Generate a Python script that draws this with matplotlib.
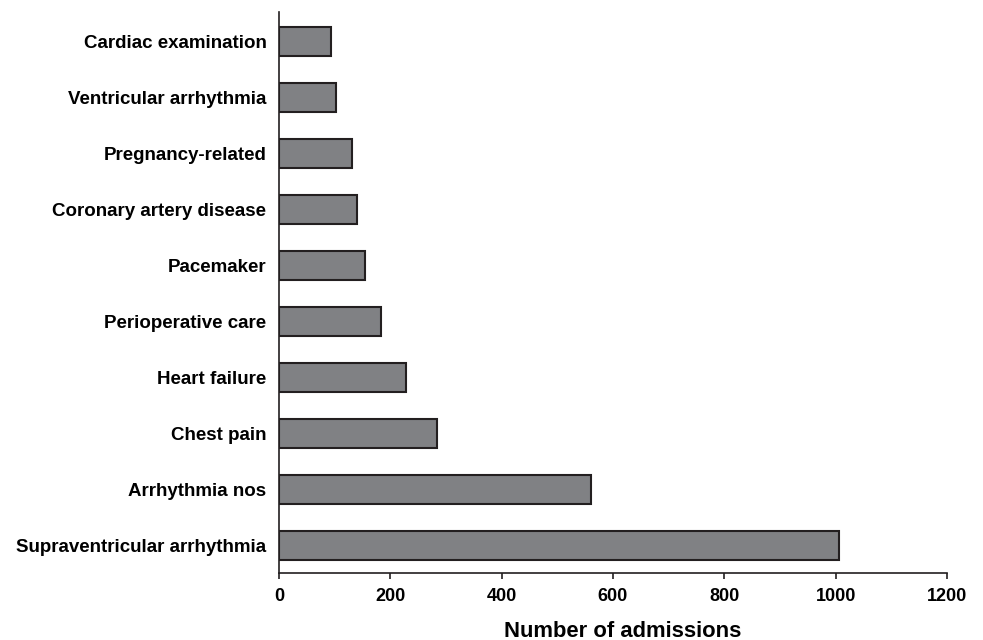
import matplotlib.pyplot as plt

plt.rcParams['font.family'] = ['Liberation Sans', 'DejaVu Sans']
plt.rcParams['font.weight'] = 'bold'

categories = ['Supraventricular arrhythmia', 'Arrhythmia nos', 'Chest pain',
              'Heart failure', 'Perioperative care', 'Pacemaker',
              'Coronary artery disease', 'Pregnancy-related',
              'Ventricular arrhythmia', 'Cardiac examination']
admissions = [1007, 560, 284, 228, 183, 154, 140, 132, 102, 93]
xticks = [0, 200, 400, 600, 800, 1000, 1200]

fig = plt.figure(figsize=(9.83, 6.4), dpi=100)
ax = fig.add_axes([0.2838, 0.1047, 0.6795, 0.8763])

ax.barh(range(len(categories)), admissions, height=0.51,
        color='#808184', edgecolor='#231f20', linewidth=1.5)

ax.set_yticks(range(len(categories)))
ax.set_yticklabels(categories, fontsize=13.5, fontweight='bold')
ax.tick_params(axis='y', length=0, pad=9)
ax.set_xticks(xticks)
ax.set_xticklabels([str(t) for t in xticks], fontsize=13, fontweight='bold')
ax.tick_params(axis='x', direction='out', length=4, width=1.2, pad=7, color='#231f20')
ax.set_xlim(0, 1200)
ax.set_ylim(-0.49, 9.52)
ax.set_xlabel('Number of admissions', fontsize=15.8, fontweight='bold', labelpad=11)
ax.xaxis.label.set_x(0.5145)

for s in ['top', 'right']:
    ax.spines[s].set_visible(False)
for s in ['left', 'bottom']:
    ax.spines[s].set_linewidth(1.2)
    ax.spines[s].set_color('#231f20')

fig.savefig('out.png', dpi=100)
